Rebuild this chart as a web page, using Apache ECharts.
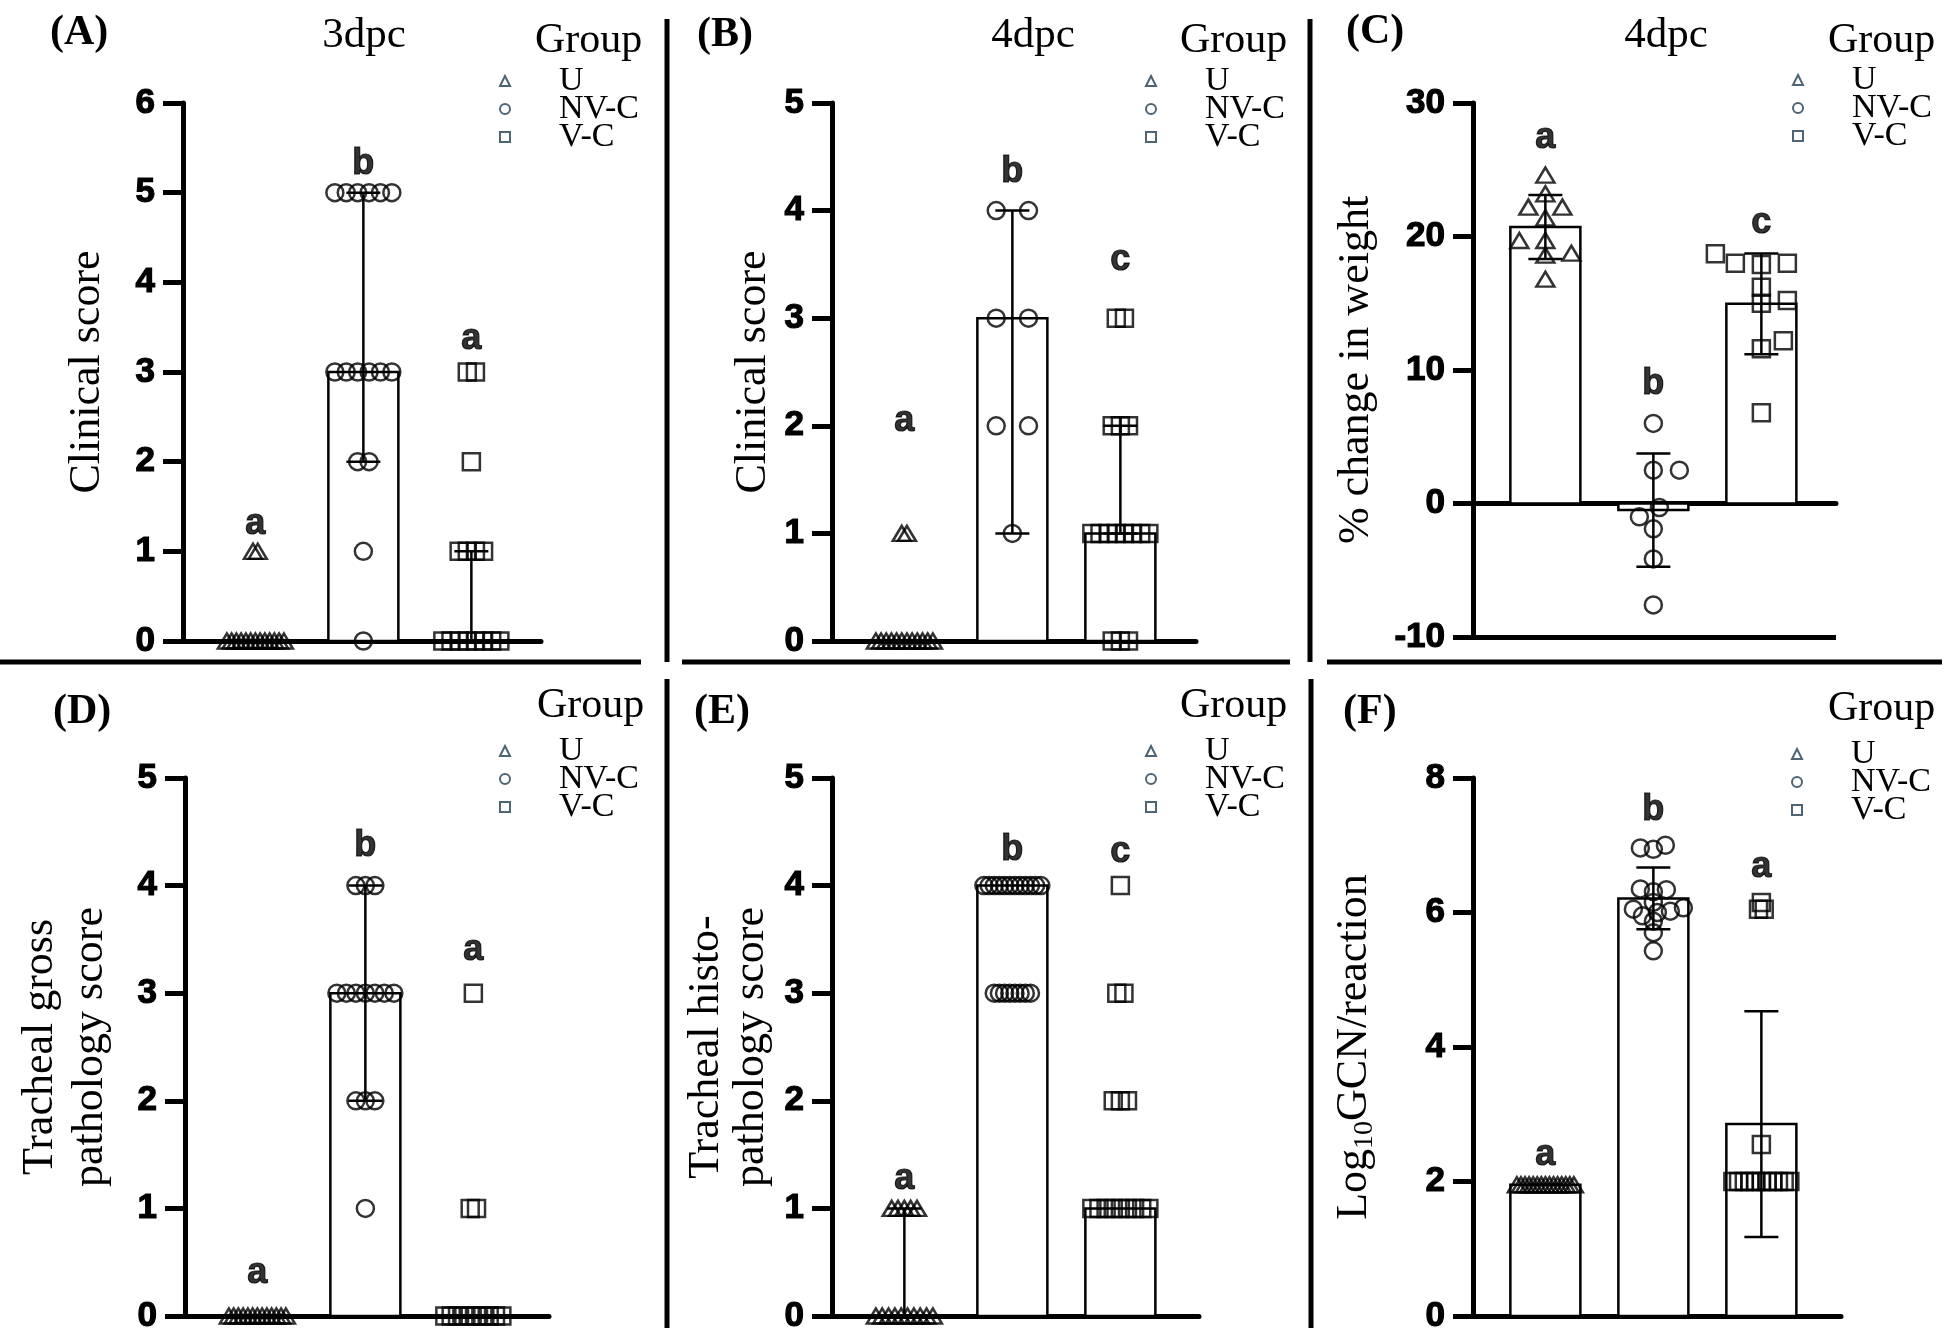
<!DOCTYPE html>
<html>
<head>
<meta charset="utf-8">
<script src="https://cdn.jsdelivr.net/npm/echarts@6/dist/echarts.min.js"></script>
<style>
html, body { margin: 0; padding: 0; background: #fff; }
#chart { width: 1952px; height: 1344px; }
</style>
</head>
<body>
<div id="chart"></div>
<script>
var groups = ['U', 'NV-C', 'V-C'];

// (A) clinical score, 3dpc
var clinA_U = [0,0,0,0,0,0,0,0,0,0,0,0,0,1,1];
var clinA_NVC = [0,1,2,2,3,3,3,3,3,3,5,5,5,5,5,5];
var clinA_VC = [0,0,0,0,0,0,0,0,1,1,1,1,2,3,3];
var clinA_median = [0, 3, 0];
var clinA_low = [0, 2, 0];
var clinA_high = [0, 5, 1];
var clinA_letters = ['a', 'b', 'a'];
var clinA_letterY = [1.3, 5.32, 3.37];

// (B) clinical score, 4dpc
var clinB_U = [0,0,0,0,0,0,0,0,0,0,0,0,1,1];
var clinB_NVC = [1,2,2,3,3,4,4];
var clinB_VC = [0,0,0,1,1,1,1,1,1,1,1,2,2,2,3,3];
var clinB_median = [0, 3, 1];
var clinB_low = [0, 1, 1];
var clinB_high = [0, 4, 2];
var clinB_letters = ['a', 'b', 'c'];
var clinB_letterY = [2.04, 4.36, 3.54];

// (C) % change in weight, 4dpc (mean +/- SD)
var weight_U = [24.6, 23.2, 22.2, 22.2, 21.4, 19.7, 19.7, 18.75, 18.6, 16.8];
var weight_NVC = [6.0, 2.5, 2.5, -0.3, -1.0, -1.9, -4.15, -7.6];
var weight_VC = [18.7, 18.0, 17.9, 18.0, 16.2, 15.2, 15.0, 12.2, 11.6, 6.8];
var weight_letters = ['a', 'b', 'c'];
var weight_letterY = [27.4, 8.95, 21.0];

// (D) tracheal gross pathology score
var grossD_U = [0,0,0,0,0,0,0,0,0,0,0,0,0];
var grossD_NVC = [1,2,2,2,3,3,3,3,3,3,3,4,4,4];
var grossD_VC = [0,0,0,0,0,0,0,0,0,0,1,1,3];
var grossD_median = [0, 3, 0];
var grossD_low = [0, 2, 0];
var grossD_high = [0, 4, 0];
var grossD_letters = ['a', 'b', 'a'];
var grossD_letterY = [0.4, 4.37, 3.4];

// (E) tracheal histopathology score
var histoE_U = [0,0,0,0,0,0,0,0,0,0,1,1,1,1,1];
var histoE_NVC = [3,3,3,3,3,3,3,3,4,4,4,4,4,4,4,4,4,4,4,4];
var histoE_VC = [1,1,1,1,1,1,1,1,1,2,2,2,3,3,4];
var histoE_median = [0, 4, 1];
var histoE_low = [0, 4, 1];
var histoE_high = [1, 4, 1];
var histoE_letters = ['a', 'b', 'c'];
var histoE_letterY = [1.27, 4.33, 4.31];

// (F) Log10 GCN/reaction (mean +/- SD)
var gcn_U = [1.95,1.95,1.95,1.95,1.95,1.95,1.95,1.95,1.95,1.95,1.95,1.95,1.95,1.95,1.95];
var gcn_NVC = [7.0, 6.96, 6.94, 6.35, 6.34, 6.31, 6.15, 6.07, 6.05, 6.02, 6.0, 5.95, 5.87, 5.7, 5.43];
var gcn_VC = [2,2,2,2,2,2,2,2,2,2,2, 2.55, 6.05, 6.05, 6.15];
var gcn_letters = ['a', 'b', 'a'];
var gcn_letterY = [2.4, 7.52, 6.68];

function mean(a) {
    var s = 0;
    for (var i = 0; i < a.length; i++) s += a[i];
    return s / a.length;
}
function sd(a) {
    var m = mean(a), s = 0;
    for (var i = 0; i < a.length; i++) s += (a[i] - m) * (a[i] - m);
    return Math.sqrt(s / (a.length - 1));
}
function meanSd(sets) {
    var bar = [], low = [], high = [];
    sets.forEach(function(a) {
        var m = mean(a), s = sd(a);
        bar.push(m); low.push(m - s); high.push(m + s);
    });
    return {bar: bar, low: low, high: high};
}

var weightStats = meanSd([weight_U, weight_NVC, weight_VC]);
var gcnStats = meanSd([gcn_U, gcn_NVC, gcn_VC]);

var CAT_PX = 108;     // pixels between group centres
var X_MIN = -0.67;
var symbols = ['triangle', 'circle', 'rect'];
var symbolSizes = [[18, 15], 17, 17];
var markD = 17;

var panels = [
    {tag: '(A)', tagPos: [50, 33], title: '3dpc', titlePos: [364, 36],
     groupPos: [535, 41], legendPos: [504, 64],
     grid: {left: 183, top: 103, width: 358, height: 538},
     yMin: 0, yMax: 6, yStep: 1, yName: 'Clinical score', nameGap: 74,
     sets: [clinA_U, clinA_NVC, clinA_VC], bar: clinA_median, low: clinA_low, high: clinA_high,
     letters: clinA_letters, letterY: clinA_letterY, layout: ['rows', 'rows', 'rows']},
    {tag: '(B)', tagPos: [697, 35], title: '4dpc', titlePos: [1033, 36],
     groupPos: [1180, 41], legendPos: [1150, 64],
     grid: {left: 832, top: 103, width: 364, height: 538},
     yMin: 0, yMax: 5, yStep: 1, yName: 'Clinical score', nameGap: 57,
     sets: [clinB_U, clinB_NVC, clinB_VC], bar: clinB_median, low: clinB_low, high: clinB_high,
     letters: clinB_letters, letterY: clinB_letterY, layout: ['rows', 'rows', 'rows']},
    {tag: '(C)', tagPos: [1346, 32], title: '4dpc', titlePos: [1666, 36],
     groupPos: [1828, 41], legendPos: [1797, 63],
     grid: {left: 1473, top: 103, width: 363, height: 534},
     yMin: -10, yMax: 30, yStep: 10, yName: '% change in weight', nameGap: 95,
     sets: [weight_U, weight_NVC, weight_VC], bar: weightStats.bar, low: weightStats.low, high: weightStats.high,
     letters: weight_letters, letterY: weight_letterY, layout: ['swarm', 'swarm', 'swarm'],
     swarm: [26, 14], bottomLine: true},
    {tag: '(D)', tagPos: [53, 712],
     groupPos: [537, 706], legendPos: [504, 734],
     grid: {left: 185, top: 778, width: 364, height: 538},
     yMin: 0, yMax: 5, yStep: 1, yName: 'Tracheal gross\npathology score', nameGap: 70, nameLine: 50,
     sets: [grossD_U, grossD_NVC, grossD_VC], bar: grossD_median, low: grossD_low, high: grossD_high,
     letters: grossD_letters, letterY: grossD_letterY, layout: ['rows', 'rows', 'rows']},
    {tag: '(E)', tagPos: [694, 712],
     groupPos: [1180, 706], legendPos: [1150, 734],
     grid: {left: 832, top: 778, width: 367, height: 538},
     yMin: 0, yMax: 5, yStep: 1, yName: 'Tracheal histo-\npathology score', nameGap: 58, nameLine: 45,
     sets: [histoE_U, histoE_NVC, histoE_VC], bar: histoE_median, low: histoE_low, high: histoE_high,
     letters: histoE_letters, letterY: histoE_letterY, layout: ['rows', 'rows', 'rows']},
    {tag: '(F)', tagPos: [1343, 712],
     groupPos: [1828, 709], legendPos: [1796, 737],
     grid: {left: 1473, top: 778, width: 368, height: 538},
     yMin: 0, yMax: 8, yStep: 2, yName: '{n|Log}{s|10}{n|GCN/reaction}', nameGap: 94, rich: true,
     sets: [gcn_U, gcn_NVC, gcn_VC], bar: gcnStats.bar, low: gcnStats.low, high: gcnStats.high,
     letters: gcn_letters, letterY: gcn_letterY, layout: ['rows', 'swarm', 'rows'],
     swarm: [13, 9]}
];

// horizontal offsets (px) for tied values: GraphPad style rows
function spreadRows(vals, d) {
    var counts = {}, seen = {}, maxRow = 1;
    vals.forEach(function(v) { counts[v] = (counts[v] || 0) + 1; maxRow = Math.max(maxRow, counts[v]); });
    var pitch = maxRow > 1 ? Math.min(1.9 * d, (74 - d) / (maxRow - 1)) : 0;
    return vals.map(function(v) {
        var i = seen[v] || 0;
        seen[v] = i + 1;
        return (i - (counts[v] - 1) / 2) * pitch;
    });
}

// simple beeswarm for continuous values
function swarm(vals, pxY, wx, wy) {
    var order = vals.map(function(v, i) { return i; }).sort(function(a, b) { return vals[a] - vals[b]; });
    var placed = [], off = [];
    order.forEach(function(i, n) {
        var y = vals[i] * pxY;
        for (var k = 0; k < 400; k++) {
            var cands = k === 0 ? [0] : (n % 2 ? [-k, k] : [k, -k]);
            var found = null;
            for (var c = 0; c < cands.length; c++) {
                var ok = placed.every(function(p) {
                    var dx = (cands[c] - p[0]) / wx, dy = (y - p[1]) / wy;
                    return dx * dx + dy * dy >= 1;
                });
                if (ok) { found = cands[c]; break; }
            }
            if (found !== null) { off[i] = found; placed.push([found, y]); break; }
        }
    });
    return off;
}

function renderBar(params, api) {
    var x = api.value(0), v = api.value(1), lo = api.value(2), hi = api.value(3);
    var base = api.coord([x, 0]);
    var top = api.coord([x, v]);
    var half = 35, cap = 17;
    var lw = 2.5;
    var children = [{
        type: 'rect',
        shape: {x: base[0] - half, y: Math.min(base[1], top[1]), width: half * 2, height: Math.abs(base[1] - top[1])},
        style: {fill: '#fff', stroke: '#000', lineWidth: lw}
    }];
    if (hi > lo) {
        var pl = api.coord([x, lo]), ph = api.coord([x, hi]);
        children.push({type: 'line', shape: {x1: pl[0], y1: pl[1], x2: ph[0], y2: ph[1]}, style: {stroke: '#000', lineWidth: lw}});
        children.push({type: 'line', shape: {x1: pl[0] - cap, y1: pl[1], x2: pl[0] + cap, y2: pl[1]}, style: {stroke: '#000', lineWidth: lw}});
        children.push({type: 'line', shape: {x1: ph[0] - cap, y1: ph[1], x2: ph[0] + cap, y2: ph[1]}, style: {stroke: '#000', lineWidth: lw}});
    }
    return {type: 'group', children: children};
}

var grids = [], xAxes = [], yAxes = [], series = [], legends = [], graphics = [];
var serif = '"Liberation Serif", "Times New Roman", serif';
var sans = '"Liberation Sans", Arial, sans-serif';

panels.forEach(function(p, pi) {
    grids.push(p.grid);
    var xMax = X_MIN + p.grid.width / CAT_PX;
    var pxY = p.grid.height / (p.yMax - p.yMin);

    xAxes.push({
        gridIndex: pi, type: 'value', min: X_MIN, max: xMax,
        axisLine: {show: true, onZero: true, lineStyle: {color: '#000', width: 5}},
        axisTick: {show: false}, axisLabel: {show: false}, splitLine: {show: false}
    });
    var nameStyle = {fontFamily: serif, fontSize: 44, color: '#000'};
    if (p.nameLine) nameStyle.lineHeight = p.nameLine;
    if (p.rich) {
        nameStyle.rich = {
            n: {fontFamily: serif, fontSize: 44, color: '#000', lineHeight: 50},
            s: {fontFamily: serif, fontSize: 28, color: '#000', lineHeight: 22, verticalAlign: 'bottom'}
        };
    }
    yAxes.push({
        gridIndex: pi, type: 'value', min: p.yMin, max: p.yMax, interval: p.yStep,
        name: p.yName, nameLocation: 'middle', nameRotate: 90, nameGap: p.nameGap,
        nameTextStyle: nameStyle,
        axisLine: {show: true, onZero: false, lineStyle: {color: '#000', width: 5}},
        axisTick: {show: true, length: 20, lineStyle: {color: '#000', width: 5}},
        axisLabel: {fontFamily: sans, fontWeight: 'bold', fontSize: 35, color: '#000', margin: 28,
                    textBorderColor: '#000', textBorderWidth: 1.2},
        splitLine: {show: false}
    });

    series.push({
        type: 'custom', xAxisIndex: pi, yAxisIndex: pi, z: 1, silent: true,
        renderItem: renderBar,
        data: p.bar.map(function(v, g) { return [g, v, p.low[g], p.high[g]]; })
    });

    p.sets.forEach(function(vals, g) {
        var off = p.layout[g] === 'swarm' ? swarm(vals, pxY, p.swarm[0], p.swarm[1]) : spreadRows(vals, markD);
        series.push({
            type: 'scatter', name: groups[g], xAxisIndex: pi, yAxisIndex: pi, z: 3, silent: true,
            symbol: symbols[g], symbolSize: symbolSizes[g],
            itemStyle: {color: 'rgba(0,0,0,0)', borderColor: '#000', borderWidth: 2.5},
            emphasis: {disabled: true},
            data: vals.map(function(v, i) { return [g + off[i] / CAT_PX, v]; })
        });
    });

    var letterSeries = {
        type: 'scatter', name: 'letters-' + pi, xAxisIndex: pi, yAxisIndex: pi, z: 4, silent: true,
        symbolSize: 1, itemStyle: {color: 'rgba(0,0,0,0)'},
        label: {show: true, position: 'inside', formatter: '{b}', fontFamily: sans, fontWeight: 'bold', fontSize: 36,
                color: '#000', textBorderColor: '#000', textBorderWidth: 1.2},
        data: p.letters.map(function(l, g) { return {name: l, value: [g, p.letterY[g]]}; })
    };
    if (p.bottomLine) {
        letterSeries.markLine = {
            silent: true, symbol: 'none', label: {show: false},
            lineStyle: {color: '#000', width: 5, type: 'solid'},
            data: [{yAxis: p.yMin}]
        };
    }
    series.push(letterSeries);

    legends.push({
        left: p.legendPos[0] - 5, top: p.legendPos[1], orient: 'vertical', padding: 0,
        itemWidth: 10, itemHeight: 10, itemGap: -6, selectedMode: false,
        data: groups.map(function(gname, g) { return {name: gname, icon: symbols[g]}; }),
        itemStyle: {color: '#fff', borderColor: '#1f3d50', borderWidth: 2},
        textStyle: {fontFamily: serif, fontSize: 34, color: '#000', lineHeight: 26, padding: [0, 0, 0, 44]}
    });

    graphics.push({type: 'text', x: p.tagPos[0], y: p.tagPos[1],
        style: {text: p.tag, font: 'bold 42px ' + serif, fill: '#000', align: 'left', verticalAlign: 'middle', textAlign: 'left', textVerticalAlign: 'middle'}});
    graphics.push({type: 'text', x: p.groupPos[0], y: p.groupPos[1],
        style: {text: 'Group', font: '42px ' + serif, fill: '#000', align: 'left', verticalAlign: 'middle', textAlign: 'left', textVerticalAlign: 'middle'}});
    if (p.title) {
        graphics.push({type: 'text', x: p.titlePos[0], y: p.titlePos[1],
            style: {text: p.title, font: '43px ' + serif, fill: '#000', align: 'center', verticalAlign: 'middle', textAlign: 'center', textVerticalAlign: 'middle'}});
    }
});

// panel separators
var sepLines = [
    [667, 19, 667, 662], [1310, 19, 1310, 662],
    [0, 662, 641, 662], [682, 662, 1290, 662], [1327, 662, 1942, 662],
    [667, 679, 667, 1328], [1311, 679, 1311, 1328]
];
sepLines.forEach(function(l) {
    graphics.push({type: 'line', shape: {x1: l[0], y1: l[1], x2: l[2], y2: l[3]}, style: {stroke: '#000', lineWidth: 5}});
});

var chart = echarts.init(document.getElementById('chart'));
chart.setOption({
    animation: false,
    backgroundColor: '#fff',
    grid: grids,
    xAxis: xAxes,
    yAxis: yAxes,
    legend: legends,
    graphic: graphics,
    series: series
});
</script>
</body>
</html>
